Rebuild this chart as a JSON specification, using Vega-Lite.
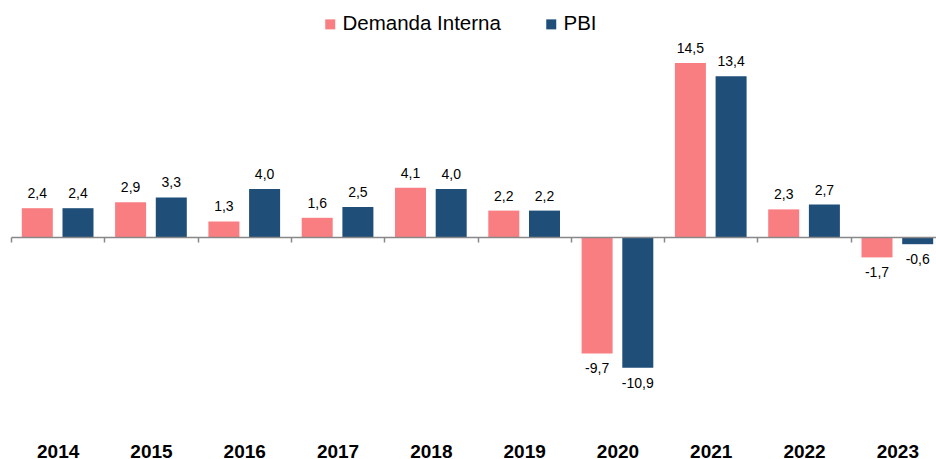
{
  "$schema": "https://vega.github.io/schema/vega-lite/v6.json",
  "autosize": "none",
  "width": 925,
  "height": 360,
  "padding": {"left": 11, "top": 45, "right": 0, "bottom": 54},
  "background": "white",
  "config": {
    "view": {"stroke": null},
    "locale": {"number": {"decimal": ",", "thousands": ".", "grouping": [3], "currency": ["", ""], "minus": "-"}},
    "font": "Liberation Sans"
  },
  "data": {
    "values": [
      {"year": "2014", "series": "Demanda Interna", "value": 2.4},
      {"year": "2014", "series": "PBI", "value": 2.4},
      {"year": "2015", "series": "Demanda Interna", "value": 2.9},
      {"year": "2015", "series": "PBI", "value": 3.3},
      {"year": "2016", "series": "Demanda Interna", "value": 1.3},
      {"year": "2016", "series": "PBI", "value": 4.0},
      {"year": "2017", "series": "Demanda Interna", "value": 1.6},
      {"year": "2017", "series": "PBI", "value": 2.5},
      {"year": "2018", "series": "Demanda Interna", "value": 4.1},
      {"year": "2018", "series": "PBI", "value": 4.0},
      {"year": "2019", "series": "Demanda Interna", "value": 2.2},
      {"year": "2019", "series": "PBI", "value": 2.2},
      {"year": "2020", "series": "Demanda Interna", "value": -9.7},
      {"year": "2020", "series": "PBI", "value": -10.9},
      {"year": "2021", "series": "Demanda Interna", "value": 14.5},
      {"year": "2021", "series": "PBI", "value": 13.4},
      {"year": "2022", "series": "Demanda Interna", "value": 2.3},
      {"year": "2022", "series": "PBI", "value": 2.7},
      {"year": "2023", "series": "Demanda Interna", "value": -1.7},
      {"year": "2023", "series": "PBI", "value": -0.6}
    ]
  },
  "encoding": {
    "x": {
      "field": "year",
      "type": "nominal",
      "scale": {"range": [0, 933], "paddingInner": 0, "paddingOuter": 0},
      "axis": {
        "title": null,
        "orient": "bottom",
        "offset": -168,
        "labelAngle": 0,
        "labelFont": "Liberation Sans",
        "labelFontSize": 19,
        "labelFontWeight": "bold",
        "labelColor": "#000000",
        "labelPadding": 200,
        "labelBaseline": "top",
        "domainColor": "#888888",
        "domainWidth": 1.5,
        "tickColor": "#888888",
        "tickWidth": 1.5,
        "tickSize": 5,
        "tickBand": "extent",
        "grid": false,
        "zindex": 1
      }
    },
    "xOffset": {
      "field": "series",
      "type": "nominal",
      "sort": ["Demanda Interna", "PBI"],
      "scale": {"paddingInner": 0.238, "paddingOuter": 0.2655}
    },
    "y": {
      "field": "value",
      "type": "quantitative",
      "scale": {"domain": [-14, 16], "nice": false, "zero": true},
      "axis": null
    }
  },
  "layer": [
    {
      "mark": {"type": "bar"},
      "encoding": {
        "color": {
          "field": "series",
          "type": "nominal",
          "scale": {"domain": ["Demanda Interna", "PBI"], "range": ["#F97E82", "#1F4E79"]},
          "legend": {
            "title": null,
            "orient": "none",
            "legendX": 309,
            "legendY": -31,
            "direction": "horizontal",
            "symbolType": "square",
            "symbolSize": 100,
            "symbolStrokeWidth": 0,
            "labelFont": "Liberation Sans",
            "labelFontSize": 20.5,
            "labelColor": "#000000",
            "labelOffset": 2,
            "columnPadding": 40,
            "padding": 0
          }
        }
      }
    },
    {
      "transform": [{"filter": "datum.value >= 0"}],
      "mark": {"type": "text", "baseline": "alphabetic", "dy": -10, "fontSize": 14, "font": "Liberation Sans", "color": "#000000"},
      "encoding": {"text": {"field": "value", "type": "quantitative", "format": ".1f"}}
    },
    {
      "transform": [{"filter": "datum.value < 0"}],
      "mark": {"type": "text", "baseline": "alphabetic", "dy": 20, "fontSize": 14, "font": "Liberation Sans", "color": "#000000"},
      "encoding": {"text": {"field": "value", "type": "quantitative", "format": ".1f"}}
    }
  ]
}
